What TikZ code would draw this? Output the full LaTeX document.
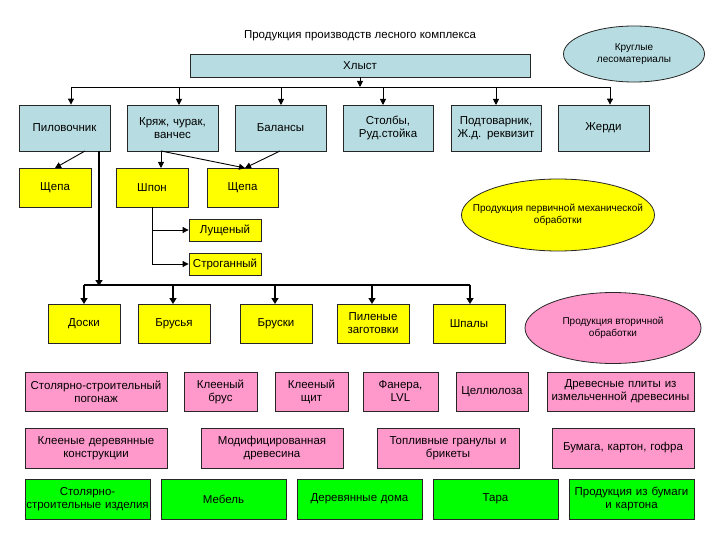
\documentclass[tikz,border=0pt]{standalone}
\usepackage{fontspec}
\setmainfont{Liberation Sans}
\usetikzlibrary{arrows.meta,shapes.geometric}
\definecolor{lblue}{RGB}{183,221,226}
\definecolor{yel}{RGB}{255,255,0}
\definecolor{pnk}{RGB}{255,153,204}
\definecolor{grn}{RGB}{0,255,0}
\tikzset{
  bxs/.style={draw=black!85, line width=0.8pt, inner sep=1pt, align=center, font=\fontsize{11.5}{13}\selectfont},
  blu/.style={bxs, fill=lblue},
  ylw/.style={bxs, fill=yel},
  pink/.style={bxs, fill=pnk},
  gr/.style={bxs, fill=grn},
  ell/.style={draw=black!85, line width=0.8pt, ellipse, align=center, inner sep=0pt, font=\fontsize{10}{11.5}\selectfont},
  arr/.style={line width=0.9pt, -{Triangle[length=6pt,width=6pt]}},
  thk/.style={line width=2pt},
  thkarr/.style={line width=2pt, -{Triangle[length=6pt,width=7pt]}},
}
\newcommand\bx[7]{\node[#6, minimum width={#4-#2}, minimum height={#5-#3}, text width={#4-#2-2}] (#1) at ({(#2+#4)/2},{(#3+#5)/2}) {#7};}
\begin{document}
\begin{tikzpicture}[x=1pt,y=-1pt]
\useasboundingbox (0,0) rectangle (720,540);
\fill[white] (0,0) rectangle (720,540);
\node[font=\fontsize{11.5}{13}\selectfont] (title) at (360,36) {Продукция производств лесного комплекса};
\bx{hl}{190}{54}{530}{77}{blu}{Хлыст}
\node[ell, fill=lblue, minimum width=141, minimum height=56] (ekr) at (634,54) {Круглые\\лесоматериалы};
% row 1
\bx{pil}{19}{105}{110}{151}{blu}{Пиловочник}
\bx{kr}{127}{105}{218}{151}{blu}{Кряж, чурак,\\ванчес}
\bx{bal}{235}{105}{326}{151}{blu}{Балансы}
\bx{stol}{343}{105}{433}{151}{blu}{Столбы,\\Руд.стойка}
\bx{pod}{451}{105}{541}{151}{blu}{Подтоварник,\\Ж.д. реквизит}
\bx{zhe}{558}{105}{649}{151}{blu}{Жерди}
% top bus
\coordinate (ta) at (71,87);
\coordinate (tb) at (610,87);
\draw[line width=0.9pt] (ta) -- (tb);
\draw[arr] (hl.south) -- (hl.south |- ta);
\draw[arr] (ta) -- (ta |- pil.north);
\draw[arr] (179,87) -- (179,105);
\draw[arr] (281,87) -- (281,105);
\draw[arr] (383,87) -- (383,105);
\draw[arr] (496,87) -- (496,105);
\draw[arr] (tb) -- (tb |- zhe.north);
% row 2
\bx{sha}{19}{168}{91}{207}{ylw}{Щепа}
\bx{shp}{116}{168}{188}{207}{ylw}{Шпон}
\bx{shb}{207}{168}{278}{207}{ylw}{Щепа}
\draw[arr] (85,151) -- (55,168);
\draw[arr] (161,151) -- (161,168);
\draw[arr] (161,151) -- (245,168);
\draw[arr] (280,151) -- (245,168);
% veneer
\bx{lu}{189}{219}{261}{241}{ylw}{Лущеный}
\bx{str}{189}{253}{261}{275}{ylw}{Строганный}
\draw[line width=0.9pt] (152,207) -- (152,264);
\draw[arr] (152,264) -- (str.west);
\draw[arr] (152,230) -- (lu.west);
\node[ell, fill=yel, inner xsep=-17pt, minimum width=193, minimum height=72] (e1) at (558,215) {Продукция первичной механической\\обработки};
% row 3
\draw[thkarr] (99,151) -- (99,286);
\draw[thk] (84,285) -- (470,285);
\bx{dos}{48}{304}{120}{343}{ylw}{Доски}
\bx{brs}{138}{304}{210}{343}{ylw}{Брусья}
\bx{brk}{240}{304}{312}{343}{ylw}{Бруски}
\bx{pz}{337}{304}{409}{343}{ylw}{Пиленые\\заготовки}
\bx{spl}{433}{304}{505}{343}{ylw}{Шпалы}
\draw[thkarr] (84,285) -- (84,304);
\draw[thkarr] (173,285) -- (173,304);
\draw[thkarr] (275,285) -- (275,304);
\draw[thkarr] (372,285) -- (372,304);
\draw[thkarr] (470,285) -- (470,304);
\node[ell, fill=pnk, minimum width=176, minimum height=71] (e2) at (613,328) {Продукция вторичной\\обработки};
% row 4
\bx{r4a}{25}{372}{167}{411}{pink}{Столярно-строительный\\погонаж}
\bx{r4b}{184}{372}{257}{411}{pink}{Клееный\\брус}
\bx{r4c}{275}{372}{348}{411}{pink}{Клееный\\щит}
\bx{r4d}{363}{372}{438}{411}{pink}{Фанера,\\LVL}
\bx{r4e}{456}{372}{528}{411}{pink}{Целлюлоза}
\bx{r4f}{547}{372}{694}{411}{pink}{Древесные плиты из\\измельченной древесины}
% row 5
\bx{r5a}{25}{428}{167}{468}{pink}{Клееные деревянные\\конструкции}
\bx{r5b}{201}{428}{343}{468}{pink}{Модифицированная\\древесина}
\bx{r5c}{377}{428}{519}{468}{pink}{Топливные гранулы и\\брикеты}
\bx{r5d}{552}{428}{694}{468}{pink}{Бумага, картон, гофра}
% row 6
\bx{r6a}{25}{479}{150}{519}{gr}{Столярно-\\строительные изделия}
\bx{r6b}{161}{479}{286}{519}{gr}{Мебель}
\bx{r6c}{297}{479}{422}{519}{gr}{Деревянные дома}
\bx{r6d}{433}{479}{558}{519}{gr}{Тара}
\bx{r6e}{569}{479}{694}{519}{gr}{Продукция из бумаги\\и картона}
\end{tikzpicture}
\end{document}
